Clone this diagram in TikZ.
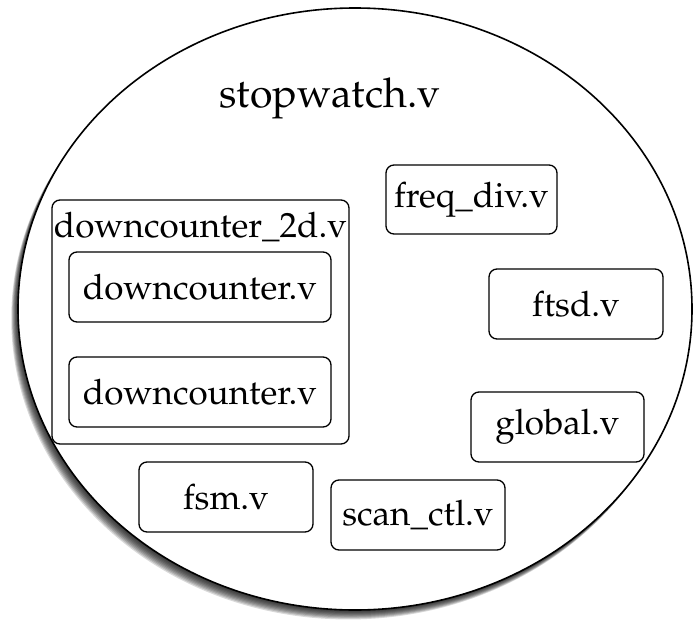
\documentclass[tikz,border=0pt]{standalone}
\usepackage[T1]{fontenc}
\usepackage{mathpazo}
\usepackage{tikz}
\usetikzlibrary{positioning,shapes.geometric}
\tikzset{
 topfile/.style={
 ellipse,
 draw=black,
 fill=white,
 line width=1.6pt,
 minimum width=674pt,
 minimum height=602pt,
 inner sep=0pt
 },
 softshadow/.style={fill=black, opacity=0.15},
 modbox/.style={
 rectangle,
 rounded corners=8pt,
 draw=black,
 line width=1.3pt,
 minimum width=174pt,
 minimum height=70pt,
 inner sep=0pt,
 font=\fontsize{35}{41}\selectfont
 },
 groupbox/.style={
 rectangle,
 rounded corners=8pt,
 draw=black,
 line width=1.3pt,
 minimum width=297pt,
 minimum height=244pt,
 inner sep=0pt
 },
 title/.style={inner sep=0pt, font=\fontsize{41}{47}\selectfont},
 grouptitle/.style={inner sep=0pt, font=\fontsize{35}{41}\selectfont}
}

\begin{document}
\begin{tikzpicture}[x=1pt, y=-1pt]
 \useasboundingbox (0,0) rectangle (700,623);
 % blurred shadow, bottom left
 \foreach \k in {1,...,9}
   \fill[softshadow] (355-0.75*\k,309+1.05*\k) ellipse [x radius=337, y radius=301];
 \node[topfile] (top) at (355,309) {};
 \node[title, anchor=base] (toplabel) at (330,107) {stopwatch.v};

 \node[groupbox] (dctwo) at (200.5,322) {};
 \node[grouptitle, anchor=base] (dctwolabel) at (200.5,237) {downcounter\_2d.v};
 \node[modbox, minimum width=262pt] (dcone) at (200,287) {downcounter.v};
 \node[modbox, minimum width=262pt] (dcsec) at (200,392) {downcounter.v};

 \node[modbox, minimum width=171pt, minimum height=69pt] (freq) at (471.5,199.5) {freq\_div.v};
 \node[modbox] (ftsd) at (576,304) {ftsd.v};
 \node[modbox, minimum width=173pt] (glob) at (557.5,427) {global.v};
 \node[modbox] (fsm) at (226,497) {fsm.v};
 \node[modbox] (scan) at (418,515) {scan\_ctl.v};
\end{tikzpicture}
\end{document}
